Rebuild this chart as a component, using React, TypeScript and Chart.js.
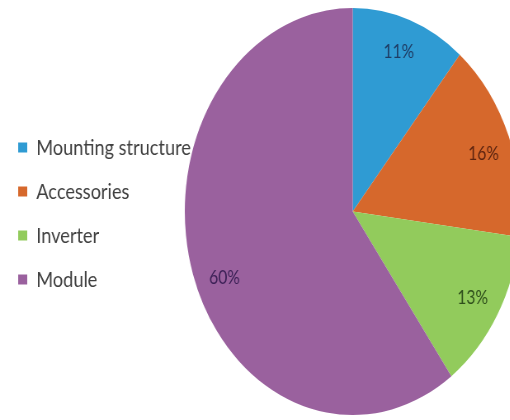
import React, { useEffect, useRef } from "react";
import { Chart, registerables } from "chart.js";

Chart.register(...registerables);

const categories = ["Mounting structure", "Accessories", "Inverter", "Module"];
const shares = [11, 16, 13, 60];
const sliceColors = ["#2F9BD3", "#D6682C", "#92CB5C", "#9A619E"];
const labelColors = ["#1F3C64", "#5C2410", "#2F4F1C", "#3A1F55"];
// small angular nudges (degrees) for percentage labels, mimicking best-fit placement
const labelAngleShift = [-0.5, 1.5, 0, -5];

const SQUEEZE = 0.825;
const W = 855;
const H = 420;

const percentLabels = {
  id: "percentLabels",
  afterDatasetsDraw(chart: any) {
    const ctx = chart.ctx;
    const meta = chart.getDatasetMeta(0);
    const data = chart.data.datasets[0].data as number[];
    const total = data.reduce((a, b) => a + b, 0);
    ctx.save();
    ctx.font = "19px Lato";
    ctx.textAlign = "center";
    ctx.textBaseline = "middle";
    meta.data.forEach((arc: any, i: number) => {
      const p = arc.getProps(["x", "y", "startAngle", "endAngle", "outerRadius"], true);
      const mid = (p.startAngle + p.endAngle) / 2 + (labelAngleShift[i] * Math.PI) / 180;
      const rr = p.outerRadius * 0.83;
      ctx.fillStyle = labelColors[i];
      ctx.fillText(
        Math.round((data[i] / total) * 100) + "%",
        p.x + Math.cos(mid) * rr,
        p.y + Math.sin(mid) * rr
      );
    });
    ctx.restore();
  },
};

export default function App() {
  const ref = useRef<HTMLCanvasElement | null>(null);
  useEffect(() => {
    if (!ref.current) return;
    const chart = new Chart(ref.current, {
      type: "pie",
      data: {
        labels: categories,
        datasets: [
          {
            data: shares,
            backgroundColor: sliceColors,
            borderWidth: 0,
            hoverOffset: 0,
          },
        ],
      },
      options: {
        responsive: false,
        animation: false,
        events: [],
        layout: { padding: { left: 0, top: 8, bottom: 5, right: 0 } },
        plugins: {
          legend: {
            position: "chartArea",
            align: "center",
            title: { display: true, text: "", padding: 4, font: { size: 10 } },
            labels: {
              boxWidth: 11,
              boxHeight: 10,
              padding: 22,
              color: "#404040",
              font: { family: "Lato", size: 22 },
            },
          },
          tooltip: { enabled: false },
        },
      },
      plugins: [percentLabels],
    });
    return () => chart.destroy();
  }, []);
  return (
    <div
      style={{
        position: "fixed",
        left: 0,
        top: 0,
        width: 510,
        height: 420,
        overflow: "hidden",
        background: "#fff",
      }}
    >
      <canvas
        ref={ref}
        width={W}
        height={H}
        style={{
          display: "block",
          width: W,
          height: H,
          transform: `scaleX(${SQUEEZE})`,
          transformOrigin: "0 0",
        }}
      />
    </div>
  );
}
